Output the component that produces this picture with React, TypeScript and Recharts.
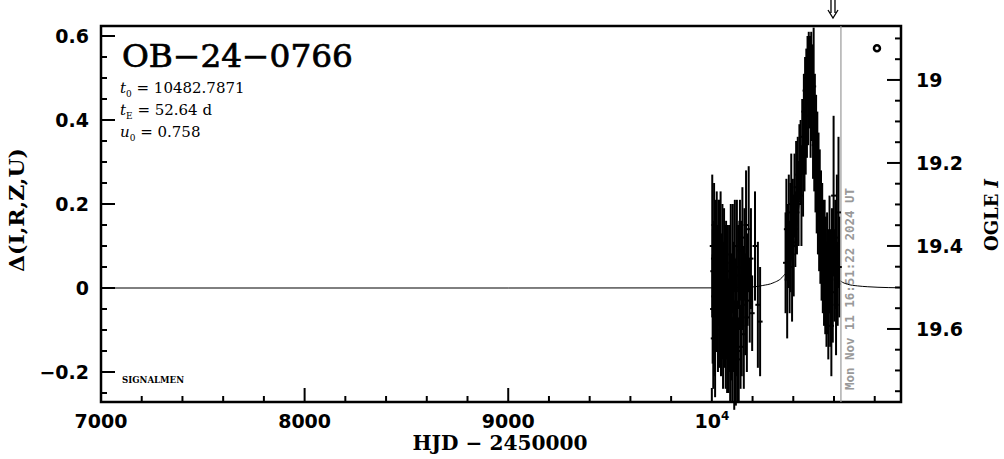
import React from 'react'
import { ComposedChart, Line, Scatter, ErrorBar, XAxis, YAxis, ReferenceLine, ReferenceArea, ReferenceDot } from 'recharts'

// OGLE photometry
const obsHjd = [
  10002, 10004, 10005, 10007, 10008, 10010, 10011, 10013, 10015, 10016, 10018, 10020, 10022, 10024, 10026, 10028,
  10030, 10032, 10034, 10036, 10038, 10040, 10043, 10045, 10047, 10050, 10052, 10055, 10057, 10060, 10062, 10065,
  10068, 10070, 10073, 10075, 10078, 10080, 10082, 10085, 10088, 10090, 10093, 10095, 10098, 10100, 10103, 10105,
  10108, 10110, 10113, 10115, 10118, 10120, 10123, 10126, 10129, 10132, 10135, 10138, 10141, 10144, 10147, 10150,
  10153, 10157, 10160, 10164, 10168, 10172, 10176, 10181, 10186, 10192, 10198, 10212, 10226, 10237,
  10362, 10366, 10370, 10374, 10378, 10382, 10386, 10390, 10394, 10398, 10402, 10406, 10410, 10414, 10418, 10422,
  10426, 10430, 10436, 10440, 10444, 10448, 10452, 10455, 10458, 10461, 10464, 10467, 10470, 10473, 10476, 10479,
  10482, 10485, 10488, 10491, 10494, 10497, 10500, 10503, 10506, 10509, 10512, 10515, 10518, 10521, 10524, 10527,
  10530, 10533, 10536, 10539, 10542, 10545, 10548, 10551, 10554, 10557, 10560, 10563, 10566, 10569, 10572, 10575,
  10578, 10581, 10584, 10587, 10590, 10594, 10598, 10602, 10606, 10610, 10614, 10618, 10622, 10626,
]
const obsDelta = [
  0.10, -0.05, 0.04, -0.12, 0.07, -0.02, 0.15, -0.08, 0.03, -0.15, 0.09, 0.00, -0.06, 0.12, -0.03, 0.05,
  -0.10, 0.12, 0.02, -0.07, 0.08, -0.01, 0.11, -0.11, 0.04, -0.04, 0.10, -0.12, 0.00, 0.07, -0.09, 0.03,
  -0.13, 0.06, -0.05, -0.14, 0.02, -0.10, -0.16, 0.04, -0.07, -0.15, 0.08, -0.12, -0.03, -0.17, 0.07, -0.08,
  0.01, -0.16, 0.10, -0.05, -0.18, -0.10, 0.10, -0.15, 0.05, -0.17, 0.03, 0.09, -0.14, 0.05, -0.09, 0.12,
  0.00, -0.11, 0.08, -0.04, 0.15, -0.07, 0.02, 0.14, -0.03, 0.07, -0.06, 0.10, -0.04, -0.08,
  0.06, 0.14, 0.02, 0.10, 0.18, 0.05, 0.12, 0.20, 0.08, 0.16, 0.10, 0.22, 0.14, 0.24, 0.18, 0.27,
  0.20, 0.30, 0.30, 0.22, 0.36, 0.28, 0.42, 0.33, 0.47, 0.38, 0.50, 0.41, 0.53, 0.44, 0.55, 0.47,
  0.52, 0.42, 0.54, 0.45, 0.50, 0.38, 0.48, 0.34, 0.41, 0.30, 0.36, 0.25, 0.31, 0.20, 0.27, 0.16,
  0.22, 0.13, 0.18, 0.09, 0.14, 0.06, 0.11, 0.03, 0.09, 0.01, 0.07, -0.02, 0.05, 0.00, -0.05, 0.04,
  0.08, -0.03, 0.02, -0.09, 0.06, -0.01, 0.22, 0.03, 0.08, -0.04, 0.12, 0.01, 0.18, 0.05,
]
const obsErr = [
  0.17, 0.13, 0.10, 0.12, 0.09, 0.11, 0.10, 0.13, 0.09, 0.11, 0.12, 0.10, 0.09, 0.11, 0.12, 0.10,
  0.10, 0.09, 0.11, 0.12, 0.13, 0.10, 0.12, 0.10, 0.09, 0.13, 0.10, 0.12, 0.11, 0.12, 0.10, 0.12,
  0.11, 0.10, 0.12, 0.11, 0.13, 0.12, 0.09, 0.11, 0.13, 0.12, 0.12, 0.10, 0.11, 0.10, 0.13, 0.12,
  0.10, 0.13, 0.11, 0.12, 0.10, 0.11, 0.11, 0.12, 0.10, 0.10, 0.13, 0.12, 0.10, 0.11, 0.12, 0.12,
  0.10, 0.13, 0.11, 0.12, 0.13, 0.13, 0.11, 0.15, 0.10, 0.12, 0.09, 0.13, 0.15, 0.13,
  0.12, 0.12, 0.14, 0.10, 0.09, 0.11, 0.13, 0.12, 0.16, 0.10, 0.12, 0.10, 0.09, 0.11, 0.10, 0.09,
  0.10, 0.09, 0.10, 0.12, 0.09, 0.11, 0.09, 0.10, 0.08, 0.11, 0.07, 0.10, 0.07, 0.10, 0.06, 0.09,
  0.08, 0.11, 0.07, 0.10, 0.08, 0.12, 0.14, 0.11, 0.10, 0.12, 0.10, 0.12, 0.11, 0.12, 0.10, 0.12,
  0.11, 0.12, 0.10, 0.12, 0.11, 0.12, 0.10, 0.12, 0.12, 0.12, 0.10, 0.12, 0.13, 0.11, 0.12, 0.10,
  0.14, 0.11, 0.12, 0.12, 0.13, 0.12, 0.19, 0.11, 0.13, 0.12, 0.15, 0.10, 0.18, 0.12,
]

// PSPL model curve
const modelHjd = [7000, 9000, 10000, 10100, 10200, 10250, 10300, 10350, 10380, 10400, 10420, 10440, 10460, 10483,
  10506, 10526, 10546, 10566, 10586, 10616, 10634, 10666, 10716, 10766, 10866, 10929]
const modelDelta = [0, 0, 0.0003, 0.0008, 0.0025, 0.006, 0.012, 0.028, 0.052, 0.092, 0.156, 0.26, 0.402, 0.502,
  0.402, 0.26, 0.156, 0.092, 0.056, 0.024, 0.016, 0.009, 0.005, 0.003, 0.001, 0.0005]

const xTicks = [7000, 7200, 7400, 7600, 7800, 8000, 8200, 8400, 8600, 8800, 9000, 9200, 9400, 9600, 9800,
  10000, 10200, 10400, 10600, 10800]
const xMajor = [7000, 8000, 9000, 10000]
const deltaTicks = [-0.25, -0.2, -0.15, -0.1, -0.05, 0, 0.05, 0.1, 0.15, 0.2, 0.25, 0.3, 0.35, 0.4, 0.45, 0.5, 0.55, 0.6]
const deltaMajor = [-0.2, 0, 0.2, 0.4, 0.6]
const magTicks = [18.9, 18.95, 19, 19.05, 19.1, 19.15, 19.2, 19.25, 19.3, 19.35, 19.4, 19.45, 19.5, 19.55, 19.6,
  19.65, 19.7, 19.75]
const magMajor = [19, 19.2, 19.4, 19.6]

const X_DOMAIN = [7000, 10929]
const D_DOMAIN = [-0.2714, 0.6238]
const M_DOMAIN = [18.870, 19.776]

const obs = obsHjd.map((x, i) => ({ x, y: obsDelta[i], err: obsErr[i] }))
const model = modelHjd.map((x, i) => ({ x, y: modelDelta[i] }))

const labelFont = { fontFamily: 'DejaVu Sans', fontWeight: 'bold' as const, fontSize: 19, fill: '#000' }
const isIn = (list: number[], v: number) => list.some((m) => Math.abs(m - v) < 1e-6)

const BottomTick = (p: any) => {
  const v = p.payload.value
  const major = isIn(xMajor, v)
  return (
    <g>
      <line x1={p.x} x2={p.x} y1={p.y} y2={p.y - (major ? 14 : 6)} stroke="#000" strokeWidth={2} />
      {major && (
        <text x={p.x} y={p.y + 26} textAnchor="middle" {...labelFont}>
          {v === 10000 ? (<>10<tspan dy={-8} fontSize={12}>4</tspan></>) : v}
        </text>
      )}
    </g>
  )
}

const TopTick = (p: any) => {
  const major = isIn(xMajor, p.payload.value)
  return <line x1={p.x} x2={p.x} y1={p.y} y2={p.y + (major ? 14 : 6)} stroke="#000" strokeWidth={2} />
}

const LeftTick = (p: any) => {
  const v = p.payload.value
  const major = isIn(deltaMajor, v)
  return (
    <g>
      <line x1={p.x} x2={p.x + (major ? 14 : 6)} y1={p.y} y2={p.y} stroke="#000" strokeWidth={2} />
      {major && (
        <text x={p.x - 12} y={p.y + 7} textAnchor="end" {...labelFont}>
          {v < 0 ? '\u2212' + Math.abs(v) : String(v)}
        </text>
      )}
    </g>
  )
}

const RightTick = (p: any) => {
  const v = p.payload.value
  const major = isIn(magMajor, v)
  return (
    <g>
      <line x1={p.x} x2={p.x - (major ? 14 : 6)} y1={p.y} y2={p.y} stroke="#000" strokeWidth={2} />
      {major && (
        <text x={p.x + 15} y={p.y + 7} textAnchor="start" {...labelFont}>{String(v)}</text>
      )}
    </g>
  )
}

const PointMark = (p: any) => <rect x={p.cx - 2.5} y={p.cy - 1} width={5} height={2} fill="#000" />

const ArrowMark = (p: any) => (
  <path
    d={`M${p.cx - 2},${p.cy - 26} V${p.cy - 13} M${p.cx + 2},${p.cy - 26} V${p.cy - 13} M${p.cx - 5},${p.cy - 16} L${p.cx},${p.cy - 8} L${p.cx + 5},${p.cy - 16}`}
    stroke="#000" strokeWidth={1.3} fill="none"
  />
)

export default function App() {
  return (
    <div style={{ position: 'absolute', left: 0, top: 0, background: '#fff' }}>
      <ComposedChart width={1004} height={459} margin={{ top: 26, right: 0, bottom: 0, left: 0 }}>
        <XAxis xAxisId={0} dataKey="x" type="number" domain={X_DOMAIN} allowDataOverflow ticks={xTicks} interval={0}
          height={57} tickSize={0} tickMargin={0} axisLine={false} tick={<BottomTick />} />
        <XAxis xAxisId="top" orientation="top" type="number" domain={X_DOMAIN} allowDataOverflow ticks={xTicks}
          interval={0} height={0} tickSize={0} tickMargin={0} axisLine={false} tick={<TopTick />} />
        <YAxis yAxisId="d" dataKey="y" type="number" domain={D_DOMAIN} allowDataOverflow ticks={deltaTicks}
          interval={0} width={101} tickSize={0} tickMargin={0} axisLine={false} tick={<LeftTick />} />
        <YAxis yAxisId="m" orientation="right" type="number" domain={M_DOMAIN} reversed allowDataOverflow
          ticks={magTicks} interval={0} width={103} tickSize={0} tickMargin={0} axisLine={false} tick={<RightTick />} />

        <Line yAxisId="d" data={model} dataKey="y" type="monotone" stroke="#000" strokeWidth={1} dot={false}
          isAnimationActive={false} />
        <Scatter yAxisId="d" data={obs} shape={<PointMark />} isAnimationActive={false}>
          <ErrorBar dataKey="err" direction="y" width={0} stroke="#000" strokeWidth={2} isAnimationActive={false} />
        </Scatter>

        <ReferenceLine yAxisId="d" x={10634} stroke="#999" strokeWidth={1.2} />
        <ReferenceDot yAxisId="d" x={10811} y={0.571} r={3} fill="#fff" stroke="#000" strokeWidth={2.5} />
        <ReferenceDot yAxisId="d" x={10595} y={D_DOMAIN[1]} ifOverflow="visible" shape={<ArrowMark />} />
        <ReferenceArea yAxisId="d" x1={X_DOMAIN[0]} x2={X_DOMAIN[1]} y1={D_DOMAIN[0]} y2={D_DOMAIN[1]}
          ifOverflow="visible" fill="none" stroke="#000" strokeWidth={2.5} />

        <text x={122} y={67} fontFamily="DejaVu Serif" fontSize={31} textLength={231} lengthAdjust="spacingAndGlyphs"
          fill="#000" stroke="#000" strokeWidth={0.7}>OB{'\u2212'}24{'\u2212'}0766</text>
        <text x={120} y={93} fontFamily="DejaVu Serif" fontSize={15} fill="#000">
          <tspan fontStyle="italic">t</tspan><tspan fontSize={9} dy={4}>0</tspan><tspan dy={-4}> = 10482.7871</tspan>
        </text>
        <text x={120} y={115} fontFamily="DejaVu Serif" fontSize={15} fill="#000">
          <tspan fontStyle="italic">t</tspan><tspan fontSize={9} dy={4}>E</tspan><tspan dy={-4}> = 52.64 d</tspan>
        </text>
        <text x={120} y={137} fontFamily="DejaVu Serif" fontSize={15} fill="#000">
          <tspan fontStyle="italic">u</tspan><tspan fontSize={9} dy={4}>0</tspan><tspan dy={-4}> = 0.758</tspan>
        </text>
        <text x={122} y={383} fontFamily="DejaVu Serif" fontWeight="bold" fontSize={8.5} textLength={62}
          lengthAdjust="spacingAndGlyphs" fill="#000">SIGNALMEN</text>
        <text transform="translate(854,390) rotate(-90)" fontFamily="DejaVu Sans Mono" fontWeight="bold" fontSize={12}
          textLength={202} lengthAdjust="spacingAndGlyphs" fill="#999">Mon Nov 11 16:51:22 2024 UT</text>

        <text x={500} y={450} textAnchor="middle" fontFamily="DejaVu Serif" fontWeight="bold" fontSize={20}
          textLength={175} lengthAdjust="spacingAndGlyphs" fill="#000">HJD {'\u2212'} 2450000</text>
        <text transform="translate(24,210) rotate(-90)" textAnchor="middle" fontFamily="DejaVu Serif" fontWeight="bold"
          fontSize={20} textLength={124} lengthAdjust="spacingAndGlyphs" fill="#000">{'\u0394'}(I,R,Z,U)</text>
        <text transform="translate(998,215) rotate(-90)" textAnchor="middle" fontFamily="DejaVu Serif" fontWeight="bold"
          fontSize={18} textLength={72} lengthAdjust="spacingAndGlyphs" fill="#000">
          OGLE <tspan fontStyle="italic">I</tspan>
        </text>
      </ComposedChart>
    </div>
  )
}
